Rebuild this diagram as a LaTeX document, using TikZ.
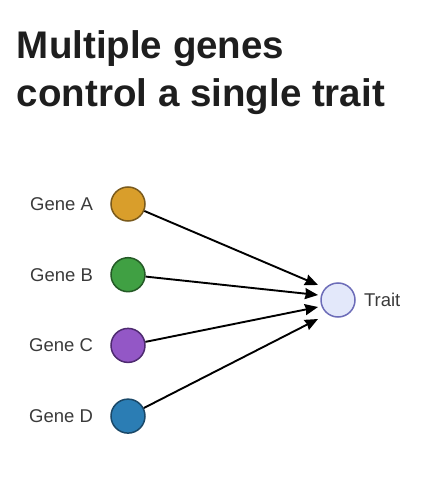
\documentclass[tikz,border=0pt]{standalone}
\usepackage{fontspec}
\setmainfont{Liberation Sans}
\usetikzlibrary{arrows.meta,positioning}

\definecolor{geneA}{HTML}{D99E2B}
\definecolor{geneAdark}{HTML}{7A5A1C}
\definecolor{geneB}{HTML}{40A043}
\definecolor{geneBdark}{HTML}{245A26}
\definecolor{geneC}{HTML}{9357C6}
\definecolor{geneCdark}{HTML}{4E2A70}
\definecolor{geneD}{HTML}{2B7DB4}
\definecolor{geneDdark}{HTML}{1A4868}
\definecolor{traitfill}{HTML}{E3E8FA}
\definecolor{traitdraw}{HTML}{6C6CB8}
\definecolor{labelgray}{HTML}{3A3A3A}
\definecolor{titlegray}{HTML}{1E1E1E}

\begin{document}
\begin{tikzpicture}[x=1pt,y=1pt,>={Stealth[length=13pt,width=11pt,inset=1pt]},
                    node distance=70.7pt,line width=1.9pt]
  \tikzstyle{gene}=[circle,draw,line width=1.5pt,minimum size=34pt,inner sep=0pt]
  \tikzstyle{lbl}=[text=labelgray,font=\fontsize{18.5}{22}\selectfont]
  \tikzstyle{ttl}=[text=titlegray,anchor=base west,inner sep=0pt,
                   font=\bfseries\fontsize{38.5}{46}\selectfont]

  \useasboundingbox (0,0) rectangle (421,-481);

  \node[ttl] (title1) at (16,-59)  {Multiple genes};
  \node[ttl] (title2) at (16,-107) {control a single trait};

  \node[gene,fill=geneA,draw=geneAdark] (A) at (128,-204) {};
  \node[gene,fill=geneB,draw=geneBdark] (B) [below of=A] {};
  \node[gene,fill=geneC,draw=geneCdark] (C) [below of=B] {};
  \node[gene,fill=geneD,draw=geneDdark] (D) [below of=C] {};
  \node[gene,fill=traitfill,draw=traitdraw] (T) at (338,-300) {};

  \node[lbl,left=13pt of A] (labA) {Gene A};
  \node[lbl,left=13pt of B] (labB) {Gene B};
  \node[lbl,left=13pt of C] (labC) {Gene C};
  \node[lbl,left=13pt of D] (labD) {Gene D};
  \node[lbl,right=4pt of T] (labT) {Trait};

  % arrow tips stop short of the trait circle
  \coordinate (endA) at (318,-285);
  \coordinate (endB) at (318,-295);
  \coordinate (endC) at (318,-307);
  \coordinate (endD) at (318,-319);

  \draw[->] (A) -- (endA);
  \draw[->] (B) -- (endB);
  \draw[->] (C) -- (endC);
  \draw[->] (D) -- (endD);

\end{tikzpicture}
\end{document}
